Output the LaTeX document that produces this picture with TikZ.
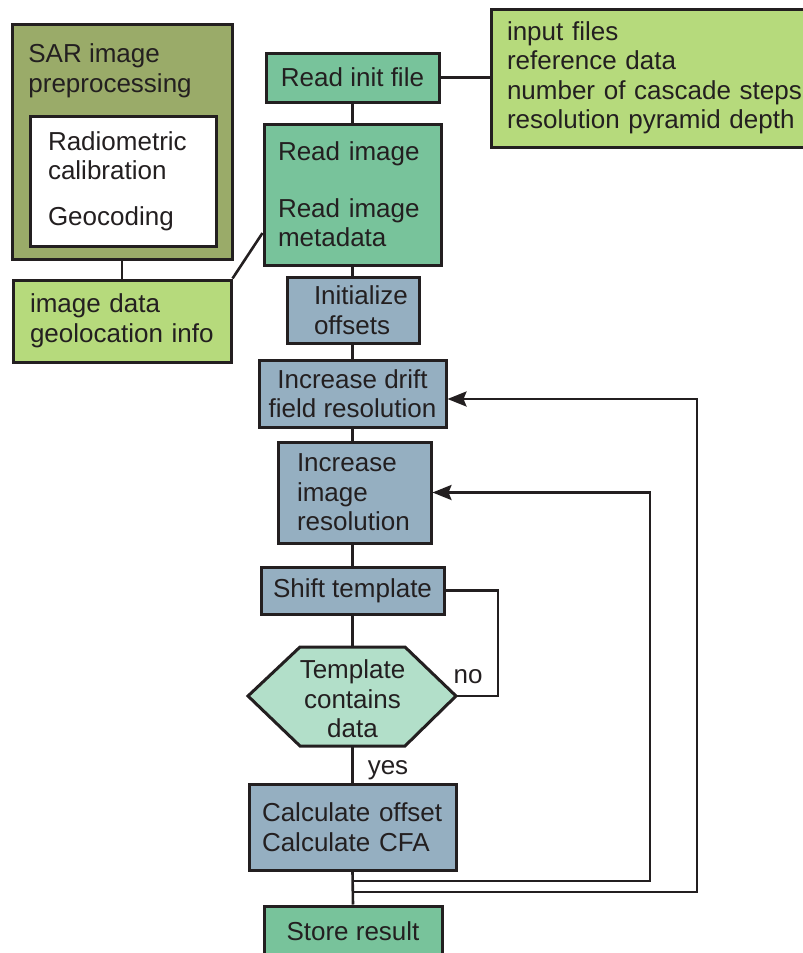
\documentclass[tikz,border=0pt]{standalone}
\usepackage{fontspec}
\setmainfont{Liberation Sans}
\usetikzlibrary{arrows.meta}
\definecolor{cSar}{HTML}{9AAB69}
\definecolor{cInfo}{HTML}{B6DA7C}
\definecolor{cTeal}{HTML}{78C39B}
\definecolor{cBlue}{HTML}{95AFC1}
\definecolor{cMint}{HTML}{B2DFC9}
\definecolor{cInk}{HTML}{231F20}
\begin{document}
\begin{tikzpicture}[x=0.5pt,y=-0.5pt,
  every node/.style={font=\fontsize{13pt}{14.75pt}\selectfont, text=cInk},
  box/.style={draw=cInk, line width=1.5pt, rectangle, inner ysep=0pt, align=center},
  ln/.style={draw=cInk, line width=1.3pt},
  arr/.style={ln, -{Stealth[length=9.5pt,width=7.5pt,inset=1.5pt]}}]
\useasboundingbox (0,0) rectangle (803,953);

% left preprocessing group
\node[box, fill=cSar, minimum width=110pt, minimum height=117.5pt] (sar) at (122,141.5) {};
\node[anchor=west, align=left, inner sep=0pt] (sartitle) at (28,71) {SAR image\\preprocessing};
\node[box, fill=white, minimum width=93pt, minimum height=65pt, inner xsep=9pt, text width=75pt, align=left] (calib) at (123,181) {Radiometric\\calibration\\[8pt]Geocoding};
\node[box, fill=cInfo, minimum width=109pt, minimum height=41pt, inner xsep=8.5pt, text width=92pt, align=left] (imgdata) at (122,321) {image data\\geolocation info};

% main column
\node[box, fill=cTeal, minimum width=86.5pt, minimum height=24.5pt] (readinit) at (352.5,77.5) {Read init file};
\node[box, fill=cInfo, minimum width=172pt, minimum height=69pt, inner xsep=8pt, text width=156pt, align=left] (info) at (663,78) {input files\\reference data\\number of cascade steps\\resolution pyramid depth};
\node[box, fill=cTeal, minimum width=88.5pt, minimum height=70.5pt, inner xsep=7pt, text width=74.5pt, align=left] (readimg) at (352.5,194.5) {Read image\\[13.5pt]Read image\\metadata};
\node[box, fill=cBlue, minimum width=66pt, minimum height=33pt, inner xsep=13.5pt, text width=39pt, align=left] (init) at (353,310) {Initialize\\offsets};
\node[box, fill=cBlue, minimum width=93.5pt, minimum height=33.5pt] (drift) at (352.5,393.5) {Increase drift\\field resolution};
\node[box, fill=cBlue, minimum width=76.5pt, minimum height=50.5pt, inner xsep=9.5pt, text width=57.5pt, align=left] (incimg) at (354.5,492.5) {Increase\\image\\resolution};
\node[box, fill=cBlue, minimum width=91.5pt, minimum height=23.5pt] (shift) at (352.5,590.5) {Shift template};

% decision hexagon
\coordinate (hT) at (352.5,647);
\coordinate (hB) at (352.5,746);
\coordinate (hR) at (456,696);
\draw[draw=cInk, line width=1.5pt, fill=cMint] (248,696) -- (300,647) -- (405,647) -- (hR) -- (405,746) -- (300,746) -- cycle;
\node[align=center] (dec) at (352.5,699) {Template\\contains\\data};

\node[box, fill=cBlue, minimum width=103.5pt, minimum height=43pt, inner xsep=6.5pt, text width=90.5pt, align=left] (calc) at (352.5,827) {Calculate offset\\Calculate CFA};
\node[box, fill=cTeal, minimum width=89pt, minimum height=25pt] (store) at (353,931) {Store result};

\node (no) at (468,677) {no};
\node (yes) at (388,770) {yes};

% connectors
\draw[ln] (sar.south) -- (imgdata.north);
\draw[ln] (imgdata.north east) -- ([yshift=-19.25pt]readimg.west);
\draw[ln] (readinit.east) -- (readinit.east -| info.west);
\draw[ln] (readinit.south) -- (readimg.north);
\draw[ln] (readimg.south) -- (readimg.south |- init.north);
\draw[ln] (drift.north |- init.south) -- (drift.north);
\draw[ln] (drift.south) -- (drift.south |- incimg.north);
\draw[ln] (drift.south |- incimg.south) -- (shift.north);
\draw[ln] (shift.south) -- (hT);
\draw[ln] (hB) -- (calc.north);
\draw[ln] (calc.south) -- (store.north);
\coordinate (nb) at (498,640);
\draw[ln] (shift.east) -| (nb) |- (hR);
\coordinate (j1) at (352.5,881);
\coordinate (r1) at (650,881);
\draw[arr] (j1) -- (r1) |- (incimg.east);
\coordinate (j2) at (352.5,892);
\coordinate (r2) at (697,892);
\draw[arr] (j2) -- (r2) |- ([yshift=-2.75pt]drift.east);
\end{tikzpicture}
\end{document}
